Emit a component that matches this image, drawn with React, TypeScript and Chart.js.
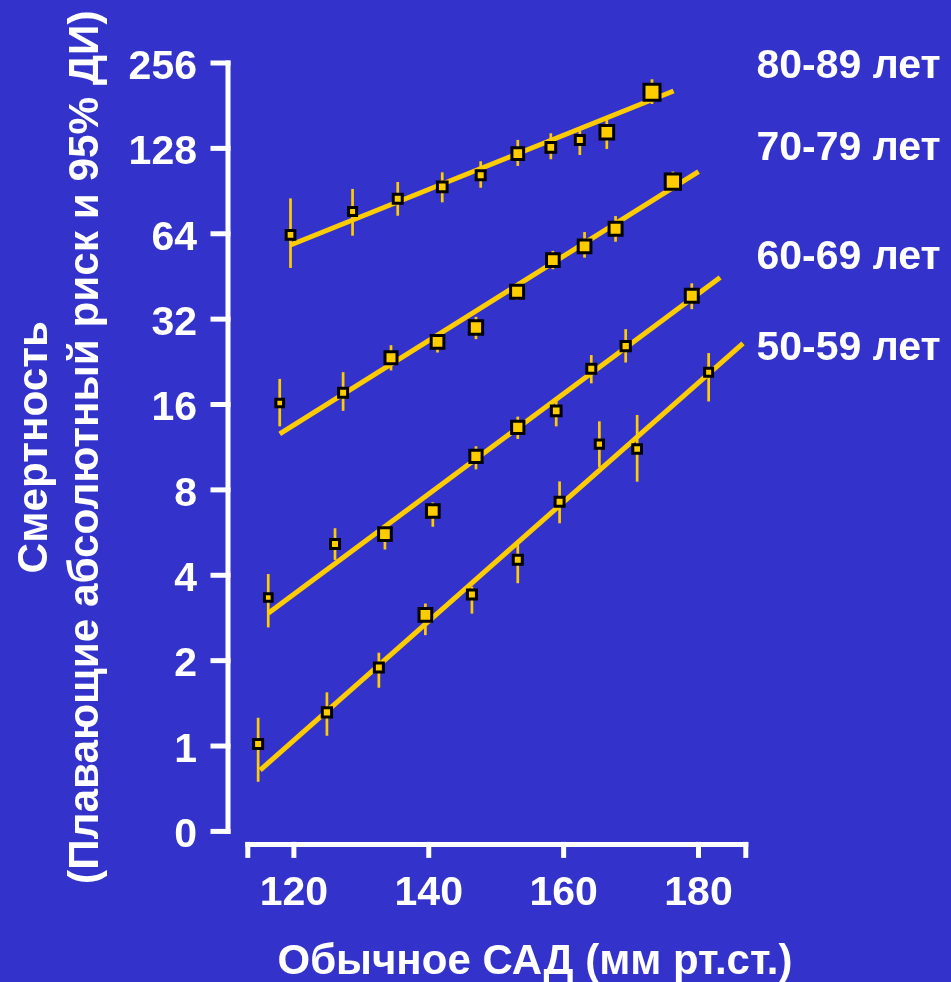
import React, { useEffect, useRef } from 'react';
import { Chart, registerables } from 'chart.js';

Chart.register(...registerables);

// ---------------- data ----------------
const xTickValues = [120, 140, 160, 180];
const yTickValues = [0.5, 1, 2, 4, 8, 16, 32, 64, 128, 256];
const yTickLabels = ['0', '1', '2', '4', '8', '16', '32', '64', '128', '256'];

const xTitle = 'Обычное САД (мм рт.ст.)';
const yTitle = ['Смертность', '(Плавающие абсолютный риск и 95% ДИ)'];
const seriesLabels = ['80-89 лет', '70-79 лет', '60-69 лет', '50-59 лет'];

// 80-89
const sbp80 = [119.5, 128.7, 135.4, 142.0, 147.7, 153.2, 158.1, 162.4, 166.4, 173.1];
const rate80 = [63.4, 76.6, 85.1, 93.6, 102.9, 122.6, 129.1, 137.1, 145.9, 201.9];
const lo80 = [48.5, 63.0, 74.1, 82.6, 93.0, 111.0, 117.2, 121.3, 127.4, 183.5];
const hi80 = [85.3, 92.1, 97.4, 105.4, 115.3, 137.1, 144.7, 147.4, 161.1, 224.3];
const fitX80 = [119.5, 176.3];
const fitY80 = [58.4, 204.0];

// 70-79
const sbp70 = [117.9, 127.3, 134.4, 141.3, 147.0, 153.1, 158.4, 163.1, 167.7, 176.2];
const rate70 = [16.2, 17.6, 23.4, 26.6, 29.9, 40.0, 51.7, 57.8, 66.7, 97.7];
const lo70 = [13.4, 15.2, 21.1, 24.4, 27.2, 37.4, 48.0, 52.7, 60.0, 90.6];
const hi70 = [19.7, 20.8, 25.9, 28.6, 32.6, 42.9, 55.7, 64.9, 73.9, 106.0];
const fitX70 = [117.9, 180.0];
const fitY70 = [12.6, 105.9];

// 60-69
const sbp60 = [116.2, 126.1, 133.5, 140.6, 147.0, 153.2, 158.9, 164.1, 169.2, 179.0];
const rate60 = [3.34, 5.16, 5.59, 6.74, 10.5, 13.3, 15.2, 21.4, 25.7, 38.7];
const lo60 = [2.62, 4.53, 4.93, 5.93, 9.45, 12.1, 13.4, 19.0, 22.5, 34.7];
const hi60 = [4.04, 5.86, 6.02, 7.23, 11.4, 14.5, 17.0, 23.9, 29.5, 42.8];
const fitX60 = [116.2, 183.2];
const fitY60 = [2.94, 44.9];

// 50-59
const sbp50 = [114.7, 124.9, 132.6, 139.5, 146.4, 153.2, 159.4, 165.3, 170.9, 181.5];
const rate50 = [1.016, 1.315, 1.891, 2.9, 3.42, 4.54, 7.27, 11.6, 11.15, 20.8];
const lo50 = [0.748, 1.087, 1.605, 2.46, 2.93, 3.75, 6.1, 9.61, 8.55, 16.4];
const hi50 = [1.258, 1.546, 2.133, 3.18, 3.65, 5.18, 8.57, 13.96, 14.7, 24.3];
const fitX50 = [115.0, 186.6];
const fitY50 = [0.823, 26.3];

// ---------------- styling ----------------
const BG = 'rgb(51,51,204)';
const YELLOW = 'rgb(255,204,0)';
const WHITE = '#ffffff';
const FONT = '"Liberation Sans", Arial, Helvetica, sans-serif';

// outer side (px) of each square marker
const side80 = [11.7, 11, 12, 12.7, 12, 14.7, 12.7, 12, 16.7, 19];
const side70 = [10.7, 12, 15, 15.7, 16.3, 16, 15.7, 15.7, 16, 18.3];
const side60 = [10.7, 12, 15.7, 15.7, 15.3, 15.3, 12.7, 12, 12.3, 16];
const side50 = [12, 12.3, 12, 15.7, 12, 12, 12, 11.3, 11.7, 11];
const MARKER_BORDER = 3;

const series = [
  { label: seriesLabels[0], sbp: sbp80, rate: rate80, lo: lo80, hi: hi80, fitX: fitX80, fitY: fitY80, side: side80 },
  { label: seriesLabels[1], sbp: sbp70, rate: rate70, lo: lo70, hi: hi70, fitX: fitX70, fitY: fitY70, side: side70 },
  { label: seriesLabels[2], sbp: sbp60, rate: rate60, lo: lo60, hi: hi60, fitX: fitX60, fitY: fitY60, side: side60 },
  { label: seriesLabels[3], sbp: sbp50, rate: rate50, lo: lo50, hi: hi50, fitX: fitX50, fitY: fitY50, side: side50 },
];

const labelBaselines = [78.3, 160, 269.3, 360];

const decorPlugin = {
  id: 'decor',
  beforeDraw(chart: any) {
    const { ctx, width, height } = chart;
    ctx.save();
    ctx.fillStyle = BG;
    ctx.fillRect(0, 0, width, height);
    ctx.restore();
  },
  beforeDatasetsDraw(chart: any) {
    const { ctx, chartArea } = chart;
    const xs = chart.scales.x;
    const ys = chart.scales.y;
    ctx.save();
    ctx.strokeStyle = WHITE;
    ctx.lineWidth = 5;
    ctx.lineCap = 'butt';
    // Y axis (offset to the left of the plot)
    const ax = chartArea.left - 18;
    const yTop = ys.getPixelForValue(yTickValues[yTickValues.length - 1]);
    const yBot = ys.getPixelForValue(yTickValues[0]);
    ctx.beginPath();
    ctx.moveTo(ax, yTop - 2.5);
    ctx.lineTo(ax, yBot + 2.5);
    ctx.stroke();
    ys.ticks.forEach((t: any) => {
      const py = ys.getPixelForValue(t.value);
      ctx.beginPath();
      ctx.moveTo(ax + 2.5, py);
      ctx.lineTo(ax - 17.5, py);
      ctx.stroke();
    });
    // X axis (offset below the plot)
    const ay = chartArea.bottom + 13;
    const L = chartArea.left - 0.7;
    const R = chartArea.right + 2.3;
    ctx.beginPath();
    ctx.moveTo(L, ay);
    ctx.lineTo(R, ay);
    ctx.stroke();
    const tickXs = [L + 2.5, R - 2.5].concat(xs.ticks.map((t: any) => xs.getPixelForValue(t.value)));
    tickXs.forEach((px: number) => {
      ctx.beginPath();
      ctx.moveTo(px, ay - 2.5);
      ctx.lineTo(px, ay + 13.5);
      ctx.stroke();
    });
    // error bars
    ctx.strokeStyle = YELLOW;
    ctx.lineWidth = 2.7;
    series.forEach((s) => {
      s.sbp.forEach((v, i) => {
        const px = xs.getPixelForValue(v);
        ctx.beginPath();
        ctx.moveTo(px, ys.getPixelForValue(s.lo[i]));
        ctx.lineTo(px, ys.getPixelForValue(s.hi[i]));
        ctx.stroke();
      });
    });
    ctx.restore();
  },
  afterDraw(chart: any) {
    const { ctx, chartArea } = chart;
    ctx.save();
    ctx.fillStyle = WHITE;
    // Y title (two rotated lines)
    ctx.font = `bold 42.3px ${FONT}`;
    ctx.textAlign = 'center';
    ctx.textBaseline = 'alphabetic';
    const cy = (chartArea.top + chartArea.bottom) / 2;
    [46.7, 98.4].forEach((bx, i) => {
      ctx.save();
      ctx.translate(bx, cy);
      ctx.rotate(-Math.PI / 2);
      ctx.fillText(yTitle[i], 0, 0);
      ctx.restore();
    });
    // X title
    ctx.font = `bold 42px ${FONT}`;
    ctx.fillText(xTitle, 535, 974);
    // Series labels on the right
    ctx.font = `bold 41px ${FONT}`;
    ctx.textAlign = 'left';
    series.forEach((s, i) => {
      ctx.fillText(s.label, 756.5, labelBaselines[i]);
    });
    ctx.restore();
  },
};

export default function App() {
  const ref = useRef<HTMLCanvasElement | null>(null);
  useEffect(() => {
    if (!ref.current) return;
    const pointSets = series.map((s) => ({
      label: s.label,
      data: s.sbp.map((x, i) => ({ x, y: s.rate[i] })),
      showLine: false,
      pointStyle: 'rect' as const,
      pointRadius: s.side.map((d) => (d - MARKER_BORDER) / Math.SQRT2),
      pointBackgroundColor: YELLOW,
      pointBorderColor: '#000000',
      pointBorderWidth: MARKER_BORDER,
      order: 0,
      clip: false as any,
    }));
    const lineSets = series.map((s) => ({
      label: s.label + ' fit',
      data: s.fitX.map((x, i) => ({ x, y: s.fitY[i] })),
      showLine: true,
      borderColor: YELLOW,
      borderWidth: 5,
      pointRadius: 0,
      order: 1,
      clip: false as any,
    }));
    const chart = new Chart(ref.current, {
      type: 'scatter',
      data: { datasets: [...pointSets, ...lineSets] as any },
      plugins: [decorPlugin],
      options: {
        animation: false,
        responsive: false,
        devicePixelRatio: 1,
        layout: { padding: { top: 63, right: 205, bottom: 0, left: 0 } },
        plugins: { legend: { display: false }, tooltip: { enabled: false } },
        scales: {
          x: {
            type: 'linear',
            min: 112.9,
            max: 187.04,
            grid: { display: false, drawTicks: false },
            border: { display: false },
            afterBuildTicks: (scale: any) => {
              scale.ticks = xTickValues.map((v) => ({ value: v }));
            },
            afterFit: (scale: any) => {
              scale.height = 150.6;
              scale.paddingLeft = 0;
              scale.paddingRight = 0;
            },
            ticks: {
              color: WHITE,
              font: { family: FONT, size: 41, weight: 'bold' },
              padding: 38,
              autoSkip: false,
              maxRotation: 0,
              callback: (v: any) => String(v),
            },
          },
          y: {
            type: 'logarithmic',
            min: 0.5,
            max: 256,
            grid: { display: false, drawTicks: false },
            border: { display: false },
            afterBuildTicks: (scale: any) => {
              scale.ticks = yTickValues.map((v) => ({ value: v }));
            },
            afterFit: (scale: any) => {
              scale.width = 246;
              scale.paddingTop = 0;
              scale.paddingBottom = 0;
            },
            ticks: {
              color: WHITE,
              font: { family: FONT, size: 41, weight: 'bold' },
              padding: 49,
              labelOffset: 4.5,
              autoSkip: false,
              callback: (_v: any, i: number) => yTickLabels[i],
            },
          },
        },
      } as any,
    });
    return () => chart.destroy();
  }, []);
  return (
    <div style={{ position: 'fixed', left: 0, top: 0, width: 951, height: 982, background: BG }}>
      <canvas ref={ref} width={951} height={982} style={{ display: 'block', width: 951, height: 982 }} />
    </div>
  );
}
